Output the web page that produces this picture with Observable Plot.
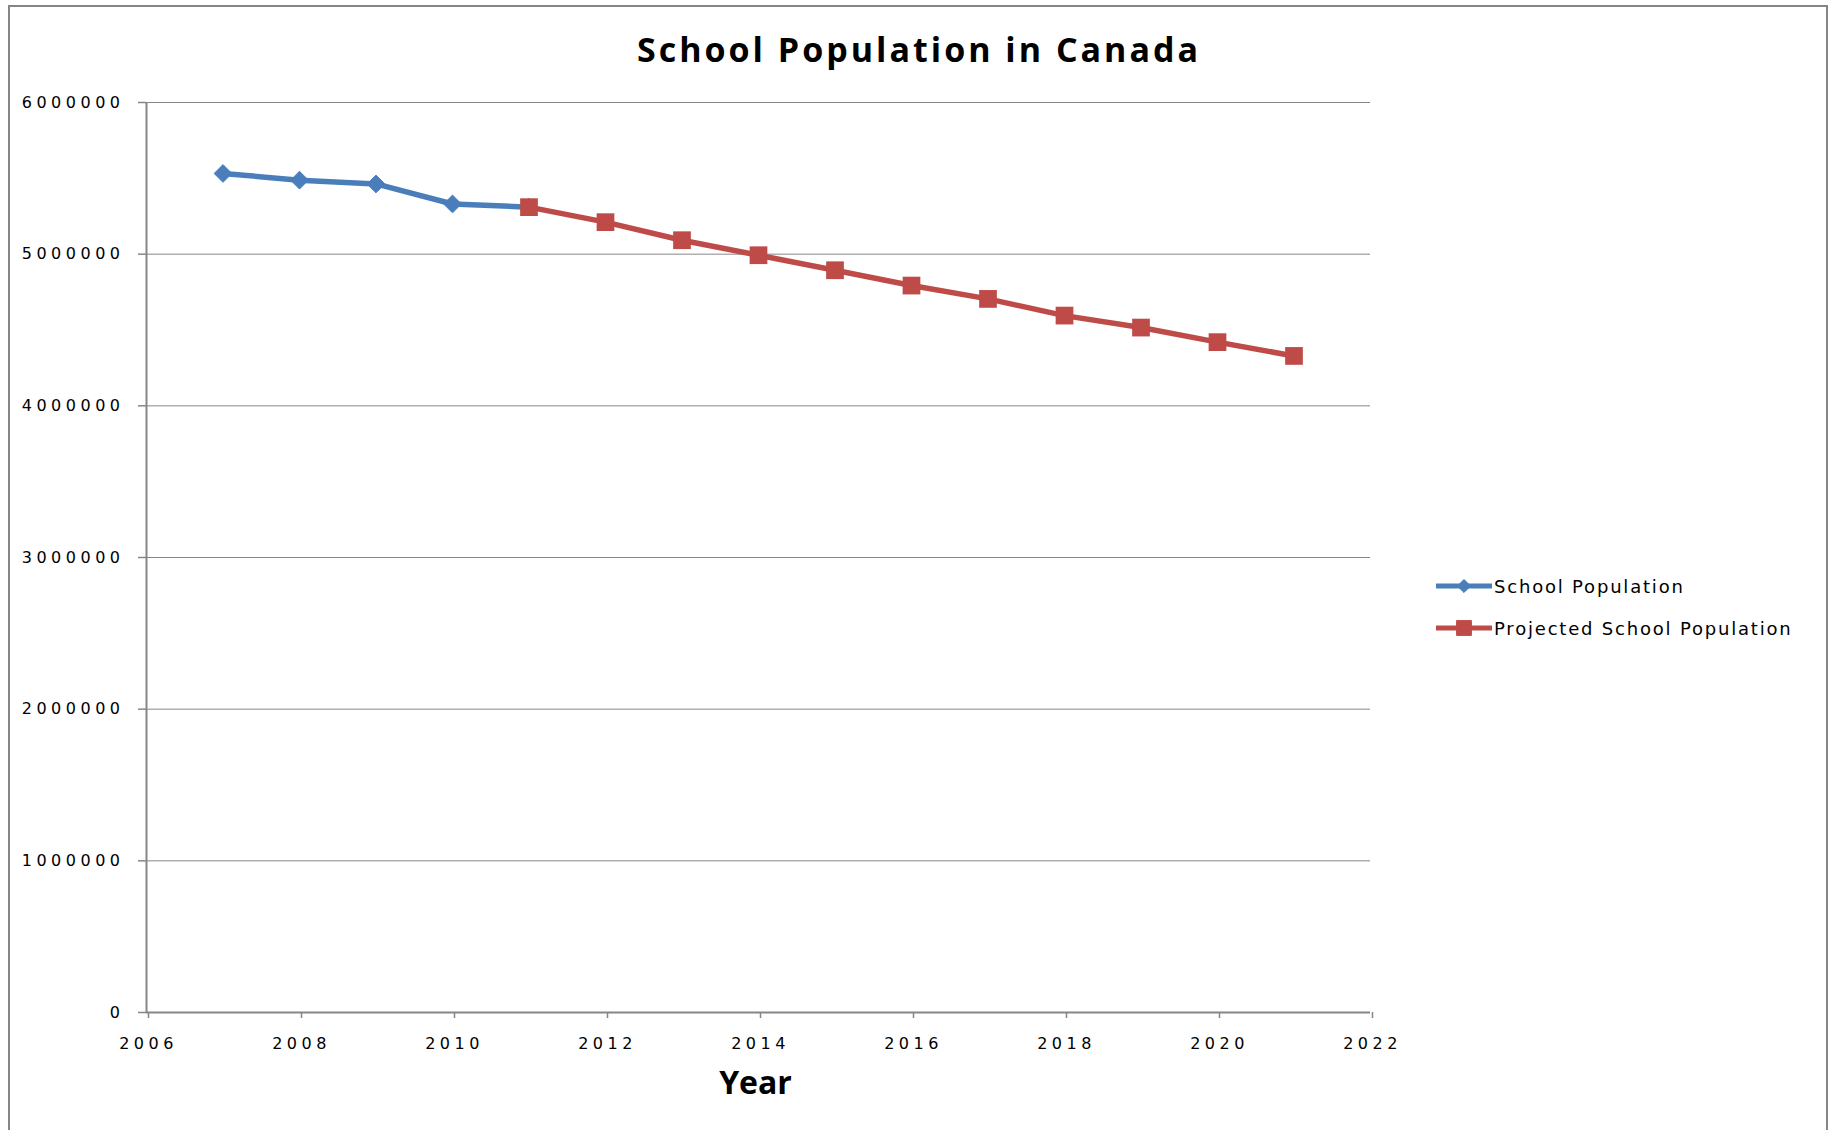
<!DOCTYPE html>
<html>
<head>
<meta charset="utf-8">
<script src="https://cdn.jsdelivr.net/npm/d3@7"></script>
<script src="https://cdn.jsdelivr.net/npm/@observablehq/plot@0.6"></script>
<style>
  html, body { margin: 0; padding: 0; background: #fff; overflow: hidden; }
  #chart { position: relative; width: 1835px; height: 1130px; overflow: hidden; background: #fff; }
  #frame { position: absolute; left: 8px; top: 5px; width: 1820px; height: 1200px;
           border: 2px solid #868686; border-bottom: none; box-sizing: border-box; pointer-events: none; }
  #title { height: 76px; box-sizing: border-box; padding-top: 29px; text-align: center;
           font-family: "Open Sans", sans-serif; font-weight: 700; font-size: 34px; line-height: 40px;
           letter-spacing: 3px; color: #000; padding-left: 3px; }
  #chart svg { display: block; }
  #chart svg g[aria-label="y-axis tick label"] text,
  #chart svg g[aria-label="x-axis tick label"] text { letter-spacing: 4.5px; }
  #legend { position: absolute; left: 1436px; top: 572px; font-family: "DejaVu Sans", sans-serif;
            font-size: 18px; letter-spacing: 1.8px; color: #000; }
  .item { display: flex; align-items: center; height: 28px; margin-bottom: 14px; }
  .item svg { margin-right: 2px; }
</style>
</head>
<body>
<div id="chart">
  <div id="title">School Population in Canada</div>
  <div id="legend"></div>
  <div id="frame"></div>
</div>
<script>
// Enrolment, recorded years
const actualYears = [2007, 2008, 2009, 2010, 2011];
const actualValues = [5532000, 5488000, 5463000, 5331000, 5310000];

// Enrolment, projected years
const projectedYears = [2011, 2012, 2013, 2014, 2015, 2016, 2017, 2018, 2019, 2020, 2021];
const projectedValues = [5310000, 5211000, 5092000, 4993000, 4894000, 4793000, 4705000, 4595000, 4516000, 4420000, 4329000];

// Axis ticks
const xTicks = [2006, 2008, 2010, 2012, 2014, 2016, 2018, 2020, 2022];
const yTicks = [0, 1000000, 2000000, 3000000, 4000000, 5000000, 6000000];

const seriesNames = ["School Population", "Projected School Population"];
const blue = "#4a7ebb";
const red = "#be4b48";
const gray = "#868686";

const actual = actualYears.map((year, i) => ({year, value: actualValues[i]}));
const projected = projectedYears.map((year, i) => ({year, value: projectedValues[i]}));

const plot = Plot.plot({
  width: 1835,
  height: 1054,
  marginLeft: 146,
  marginRight: 465,
  marginTop: 26,
  marginBottom: 118,
  x: {domain: [2006, 2022]},
  y: {domain: [0, 6000000]},
  style: {fontFamily: '"DejaVu Sans", sans-serif', fontSize: "16px", color: "#000", background: "transparent", overflow: "visible"},
  marks: [
    Plot.ruleY(yTicks.filter(d => d > 0), {stroke: gray, strokeWidth: 1}),
    Plot.axisY({ticks: yTicks, tickSize: 8, tickPadding: 14, tickFormat: d => String(d), stroke: gray, strokeWidth: 1.5, label: null, fontSize: 16}),
    Plot.axisX({ticks: xTicks, tickSize: 6, tickPadding: 19, tickFormat: d => String(d), stroke: gray, strokeWidth: 1.5, label: null, dx: 2, fontSize: 16}),
    Plot.ruleX([2006], {stroke: gray, strokeWidth: 2}),
    Plot.ruleY([0], {stroke: gray, strokeWidth: 2}),
    Plot.line(actual, {x: "year", y: "value", stroke: blue, strokeWidth: 5.5, strokeLinejoin: "round"}),
    Plot.dot(actual, {x: "year", y: "value", symbol: "diamond2", r: 8, fill: blue, stroke: blue, strokeWidth: 1}),
    Plot.line(projected, {x: "year", y: "value", stroke: red, strokeWidth: 5.5, strokeLinejoin: "round"}),
    Plot.dot(projected, {x: "year", y: "value", symbol: "square", r: 10, fill: red}),
    Plot.text(["Year"], {frameAnchor: "bottom", dy: 71, dx: -3, fontSize: 32, fontWeight: "bold",
      fontFamily: '"Open Sans", sans-serif', fill: "#000", lineAnchor: "middle", letterSpacing: 1.5})
  ]
});
document.getElementById("chart").insertBefore(plot, document.getElementById("legend"));

// Legend: line sample with the series marker, then its name
const legend = d3.select("#legend");
const keys = [
  {name: seriesNames[0], color: blue, symbol: d3.symbolDiamond2, size: 110},
  {name: seriesNames[1], color: red, symbol: d3.symbolSquare, size: 220}
];
for (const k of keys) {
  const row = legend.append("div").attr("class", "item");
  const sw = row.append("svg").attr("width", 56).attr("height", 28);
  sw.append("line").attr("x1", 0).attr("x2", 56).attr("y1", 14).attr("y2", 14)
    .attr("stroke", k.color).attr("stroke-width", 5);
  sw.append("path").attr("transform", "translate(28,14)")
    .attr("d", d3.symbol(k.symbol, k.size)()).attr("fill", k.color).attr("stroke", k.color);
  row.append("span").text(k.name);
}
</script>
</body>
</html>
